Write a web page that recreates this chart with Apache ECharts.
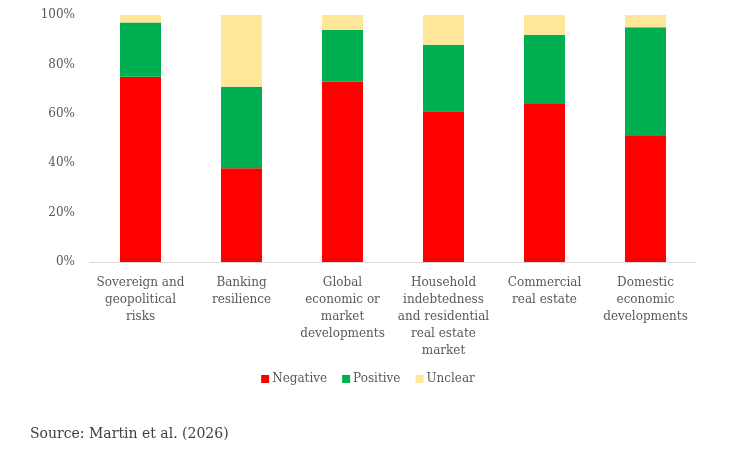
<!DOCTYPE html>
<html><head><meta charset="utf-8">
<script src="https://cdn.jsdelivr.net/npm/echarts@6/dist/echarts.min.js"></script>
<style>html,body{margin:0;padding:0;background:#fff}#c{width:736px;height:451px}</style>
</head><body><div id="c"></div>
<script>
const categories = ["Sovereign and\ngeopolitical\nrisks","Banking\nresilience","Global\neconomic or\nmarket\ndevelopments","Household\nindebtedness\nand residential\nreal estate\nmarket","Commercial\nreal estate","Domestic\neconomic\ndevelopments"];
const negative = [75, 38, 73, 61, 64, 51];
const positive = [22, 33, 21, 27, 28, 44];
const unclear = [3, 29, 6, 12, 8, 5];
const yTicks = [0, 20, 40, 60, 80, 100];
const font = "'DejaVu Serif', serif";
const chart = echarts.init(document.getElementById('c'));
chart.setOption({
  animation: false,
  grid: {left: 90, right: 40, top: 15, bottom: 189},
  legend: {bottom: 61, left: 'center', itemWidth: 8, itemHeight: 8, itemGap: 15,
    icon: 'rect', textStyle: {fontFamily: font, fontSize: 12, color: '#595959', padding: [0, 0, 0, -2]},
    data: ['Negative','Positive','Unclear']},
  graphic: [{type: 'text', left: 30, top: 427, style: {text: 'Source: Martin et al. (2026)', font: "14px 'DejaVu Serif', serif", fill: '#404040'}}],
  xAxis: {type: 'category', data: categories,
    axisLine: {lineStyle: {color: '#d9d9d9'}}, axisTick: {show: false},
    axisLabel: {fontFamily: font, fontSize: 12, color: '#595959', lineHeight: 17, interval: 0, margin: 12}},
  yAxis: {type: 'value', min: 0, max: 100, interval: 20,
    splitLine: {show: false}, axisLine: {show: false}, axisTick: {show: false},
    axisLabel: {formatter: v => yTicks.includes(v) ? v + '%' : '', fontFamily: font, fontSize: 12, color: '#595959', margin: 15}},
  series: [
    {name: 'Negative', type: 'bar', stack: 's', data: negative, barWidth: 41, itemStyle: {color: '#ff0000'}},
    {name: 'Positive', type: 'bar', stack: 's', data: positive, itemStyle: {color: '#00b050'}},
    {name: 'Unclear', type: 'bar', stack: 's', data: unclear, itemStyle: {color: '#ffe699'}}
  ]
});
</script></body></html>
